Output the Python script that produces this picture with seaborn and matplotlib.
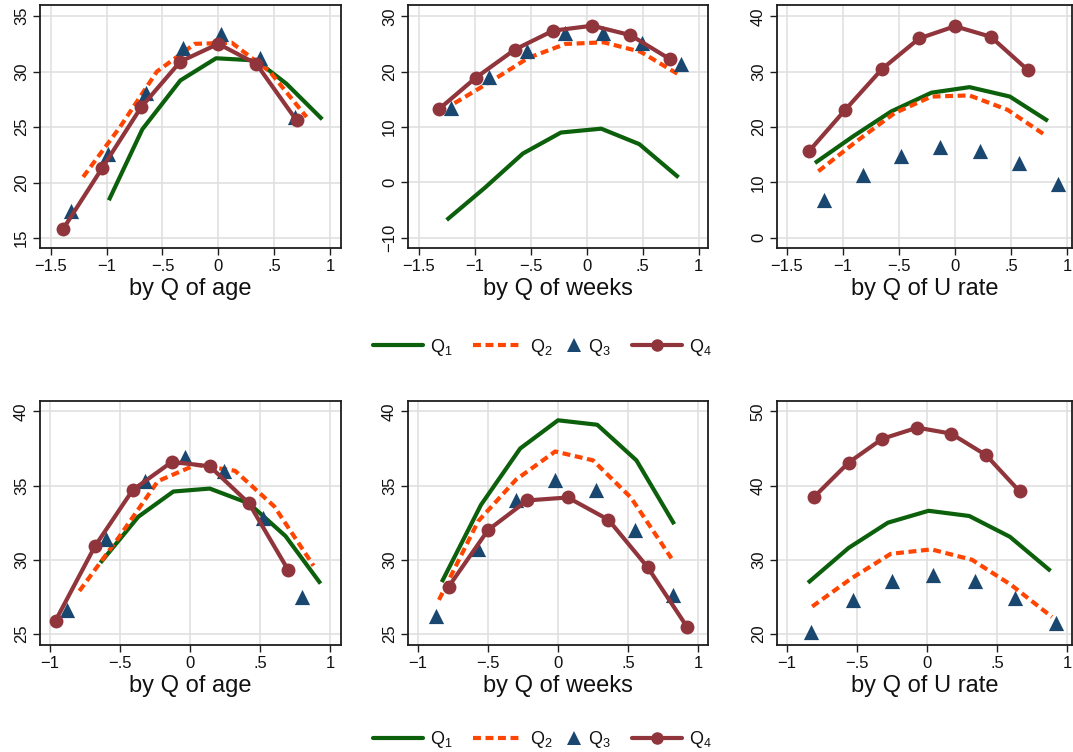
import matplotlib
matplotlib.use("Agg")
import matplotlib.pyplot as plt
from matplotlib.lines import Line2D
import seaborn as sns
import pandas as pd

# ---------------- data ----------------
series_labels = [r"$\mathregular{Q_1}$", r"$\mathregular{Q_2}$", r"$\mathregular{Q_3}$", r"$\mathregular{Q_4}$"]
axis_titles = ["by Q of age", "by Q of weeks", "by Q of U rate"]

# top row, by Q of age
top_age_q1_x = [-0.98, -0.68, -0.34, -0.02, 0.34, 0.61, 0.93]
top_age_q1_y = [18.4, 24.8, 29.2, 31.2, 31.0, 28.9, 25.7]
top_age_q2_x = [-1.21, -0.88, -0.55, -0.21, 0.12, 0.46, 0.79]
top_age_q2_y = [20.5, 25.0, 30.0, 32.5, 32.6, 30.0, 25.9]
top_age_q3_x = [-1.32, -0.99, -0.65, -0.32, 0.02, 0.37, 0.69]
top_age_q3_y = [17.4, 22.6, 28.1, 32.1, 33.4, 31.2, 25.9]
top_age_q4_x = [-1.39, -1.04, -0.69, -0.34, 0.00, 0.34, 0.70]
top_age_q4_y = [15.8, 21.3, 26.8, 30.9, 32.5, 30.7, 25.6]

# top row, by Q of weeks
top_wk_q1_x = [-1.25, -0.91, -0.57, -0.23, 0.13, 0.47, 0.82]
top_wk_q1_y = [-6.8, -1.0, 5.2, 9.0, 9.7, 6.9, 0.9]
top_wk_q2_x = [-1.18, -0.85, -0.52, -0.19, 0.15, 0.48, 0.82]
top_wk_q2_y = [14.3, 18.3, 22.5, 25.0, 25.3, 23.6, 19.5]
top_wk_q3_x = [-1.21, -0.87, -0.53, -0.19, 0.15, 0.49, 0.84]
top_wk_q3_y = [13.4, 19.0, 23.8, 26.9, 26.9, 25.2, 21.4]
top_wk_q4_x = [-1.32, -0.99, -0.64, -0.30, 0.05, 0.39, 0.74]
top_wk_q4_y = [13.2, 18.9, 24.0, 27.4, 28.3, 26.6, 22.3]

# top row, by Q of U rate
top_ur_q1_x = [-1.25, -0.91, -0.57, -0.21, 0.13, 0.49, 0.83]
top_ur_q1_y = [13.5, 18.3, 22.8, 26.2, 27.2, 25.5, 21.1]
top_ur_q2_x = [-1.22, -0.88, -0.54, -0.21, 0.13, 0.47, 0.80]
top_ur_q2_y = [12.0, 17.4, 22.5, 25.5, 25.7, 23.1, 18.6]
top_ur_q3_x = [-1.17, -0.82, -0.48, -0.13, 0.22, 0.57, 0.92]
top_ur_q3_y = [6.9, 11.4, 14.7, 16.3, 15.7, 13.5, 9.7]
top_ur_q4_x = [-1.30, -0.98, -0.65, -0.32, 0.00, 0.32, 0.65]
top_ur_q4_y = [15.7, 23.1, 30.5, 36.0, 38.2, 36.3, 30.3]

# bottom row, by Q of age
bot_age_q1_x = [-0.64, -0.37, -0.12, 0.14, 0.42, 0.68, 0.93]
bot_age_q1_y = [29.8, 32.9, 34.6, 34.8, 33.8, 31.6, 28.4]
bot_age_q2_x = [-0.79, -0.51, -0.23, 0.04, 0.32, 0.60, 0.88]
bot_age_q2_y = [27.9, 31.5, 35.3, 36.4, 36.0, 33.6, 29.6]
bot_age_q3_x = [-0.88, -0.60, -0.32, -0.04, 0.24, 0.52, 0.80]
bot_age_q3_y = [26.6, 31.4, 35.3, 36.9, 36.0, 32.8, 27.5]
bot_age_q4_x = [-0.96, -0.68, -0.41, -0.13, 0.14, 0.42, 0.70]
bot_age_q4_y = [25.9, 30.9, 34.7, 36.6, 36.3, 33.8, 29.3]

# bottom row, by Q of weeks
bot_wk_q1_x = [-0.83, -0.55, -0.27, 0.00, 0.28, 0.56, 0.83]
bot_wk_q1_y = [28.5, 33.7, 37.5, 39.4, 39.1, 36.7, 32.4]
bot_wk_q2_x = [-0.85, -0.57, -0.30, -0.02, 0.25, 0.52, 0.81]
bot_wk_q2_y = [27.3, 32.6, 35.4, 37.3, 36.7, 34.2, 30.1]
bot_wk_q3_x = [-0.87, -0.57, -0.30, -0.02, 0.27, 0.55, 0.82]
bot_wk_q3_y = [26.2, 30.7, 34.0, 35.4, 34.7, 32.0, 27.6]
bot_wk_q4_x = [-0.78, -0.50, -0.22, 0.07, 0.36, 0.64, 0.92]
bot_wk_q4_y = [28.2, 32.0, 34.0, 34.2, 32.7, 29.5, 25.5]

# bottom row, by Q of U rate
bot_ur_q1_x = [-0.85, -0.56, -0.28, 0.01, 0.30, 0.59, 0.88]
bot_ur_q1_y = [26.9, 31.6, 35.0, 36.6, 35.9, 33.1, 28.5]
bot_ur_q2_x = [-0.82, -0.54, -0.26, 0.03, 0.32, 0.60, 0.89]
bot_ur_q2_y = [23.7, 27.5, 30.8, 31.4, 30.0, 26.6, 22.3]
bot_ur_q3_x = [-0.83, -0.53, -0.25, 0.04, 0.34, 0.63, 0.92]
bot_ur_q3_y = [20.3, 24.6, 27.2, 28.0, 27.2, 24.8, 21.5]
bot_ur_q4_x = [-0.81, -0.56, -0.32, -0.07, 0.17, 0.42, 0.66]
bot_ur_q4_y = [38.4, 43.1, 46.3, 47.8, 47.0, 44.1, 39.2]

top_x_ticks = [-1.5, -1.0, -0.5, 0.0, 0.5, 1.0]
bot_x_ticks = [-1.0, -0.5, 0.0, 0.5, 1.0]
top_age_y_ticks = [15, 20, 25, 30, 35]
top_wk_y_ticks = [-10, 0, 10, 20, 30]
top_ur_y_ticks = [0, 10, 20, 30, 40]
bot_age_y_ticks = [25, 30, 35, 40]
bot_wk_y_ticks = [25, 30, 35, 40]
bot_ur_y_ticks = [20, 30, 40, 50]

# ---------------- style ----------------
sns.set_theme(style="white")
plt.rcParams["font.family"] = ["Liberation Sans", "DejaVu Sans"]
plt.rcParams["mathtext.fontset"] = "custom"
plt.rcParams["mathtext.rm"] = "Liberation Sans"
plt.rcParams["axes.unicode_minus"] = True

C_Q1 = "#0c600c"
C_Q2 = "#ff4500"
C_Q3 = "#1a476f"
C_Q4 = "#90353b"
GRID = "#e0e0e0"
FRAME = "#1e1e1e"

W, H = 1073, 752
fig = plt.figure(figsize=(W / 100, H / 100), dpi=100)
fig.patch.set_facecolor("white")


def px_axes(l, r, t, b):
    return fig.add_axes([l / W, 1 - b / H, (r - l) / W, (b - t) / H])


def fmt(v):
    if abs(v) < 1e-9:
        return "0"
    s = "%g" % abs(v)
    if s.startswith("0."):
        s = s[1:]
    return ("\u2212" + s) if v < 0 else s


panels = [
    dict(box=(40, 341, 5, 248), xlim=(-1.596, 1.098), ylim=(14.1, 36.0),
         xt=top_x_ticks, yt=top_age_y_ticks, title=axis_titles[0],
         s=[(top_age_q1_x, top_age_q1_y), (top_age_q2_x, top_age_q2_y),
            (top_age_q3_x, top_age_q3_y), (top_age_q4_x, top_age_q4_y)]),
    dict(box=(408, 708, 5, 248), xlim=(-1.595, 1.083), ylim=(-11.86, 32.04),
         xt=top_x_ticks, yt=top_wk_y_ticks, title=axis_titles[1],
         s=[(top_wk_q1_x, top_wk_q1_y), (top_wk_q2_x, top_wk_q2_y),
            (top_wk_q3_x, top_wk_q3_y), (top_wk_q4_x, top_wk_q4_y)]),
    dict(box=(777, 1072, 5, 248), xlim=(-1.589, 1.045), ylim=(-1.86, 42.04),
         xt=top_x_ticks, yt=top_ur_y_ticks, title=axis_titles[2],
         s=[(top_ur_q1_x, top_ur_q1_y), (top_ur_q2_x, top_ur_q2_y),
            (top_ur_q3_x, top_ur_q3_y), (top_ur_q4_x, top_ur_q4_y)]),
    dict(box=(40, 341, 401, 645), xlim=(-1.071, 1.076), ylim=(24.26, 40.7),
         xt=bot_x_ticks, yt=bot_age_y_ticks, title=axis_titles[0],
         s=[(bot_age_q1_x, bot_age_q1_y), (bot_age_q2_x, bot_age_q2_y),
            (bot_age_q3_x, bot_age_q3_y), (bot_age_q4_x, bot_age_q4_y)]),
    dict(box=(408, 708, 401, 645), xlim=(-1.071, 1.071), ylim=(24.26, 40.7),
         xt=bot_x_ticks, yt=bot_wk_y_ticks, title=axis_titles[1],
         s=[(bot_wk_q1_x, bot_wk_q1_y), (bot_wk_q2_x, bot_wk_q2_y),
            (bot_wk_q3_x, bot_wk_q3_y), (bot_wk_q4_x, bot_wk_q4_y)]),
    dict(box=(777, 1072, 401, 645), xlim=(-1.071, 1.033), ylim=(18.52, 51.39),
         xt=bot_x_ticks, yt=bot_ur_y_ticks, title=axis_titles[2],
         s=[(bot_ur_q1_x, bot_ur_q1_y), (bot_ur_q2_x, bot_ur_q2_y),
            (bot_ur_q3_x, bot_ur_q3_y), (bot_ur_q4_x, bot_ur_q4_y)]),
]

LW = 3.0
for p in panels:
    ax = px_axes(*p["box"])
    ax.set_facecolor("white")
    (x1, y1), (x2, y2), (x3, y3), (x4, y4) = p["s"]
    sns.lineplot(x=x1, y=y1, ax=ax, color=C_Q1, lw=LW, sort=False,
                 errorbar=None, legend=False, solid_capstyle="butt", zorder=3)
    sns.lineplot(x=x2, y=y2, ax=ax, color=C_Q2, lw=LW, sort=False,
                 errorbar=None, legend=False, dashes=False, zorder=3)
    ax.lines[-1].set_dashes((1.9, 1.1))
    sns.scatterplot(x=x3, y=y3, ax=ax, color=C_Q3, marker="^", s=120,
                    linewidth=0, legend=False, zorder=4)
    sns.lineplot(x=x4, y=y4, ax=ax, color=C_Q4, lw=LW, sort=False,
                 errorbar=None, legend=False, marker="o", markersize=10,
                 markeredgecolor=C_Q4, markeredgewidth=0, zorder=5)

    ax.set_xlim(*p["xlim"])
    ax.set_ylim(*p["ylim"])
    ax.set_xticks(p["xt"])
    ax.set_yticks(p["yt"])
    ax.set_xticklabels([fmt(v) for v in p["xt"]])
    ax.set_yticklabels([fmt(v) for v in p["yt"]], rotation=90, va="center")
    ax.grid(True, color=GRID, lw=1.2, zorder=0)
    ax.set_axisbelow(True)
    for sp in ax.spines.values():
        sp.set_visible(True)
        sp.set_color(FRAME)
        sp.set_linewidth(1.3)
    ax.tick_params(axis="both", direction="out", length=5, width=1,
                   color=FRAME, labelsize=12, labelcolor="#111111",
                   bottom=True, left=True, pad=3)
    ax.set_xlabel(p["title"], fontsize=17, color="#111111", labelpad=3)
    ax.set_ylabel("")

# legends: one entry each, placed as in the reference
handles = [
    Line2D([], [], color=C_Q1, lw=LW),
    Line2D([], [], color=C_Q2, lw=LW, dashes=(1.9, 1.1)),
    Line2D([], [], color=C_Q3, lw=0, marker="^", markersize=10, markeredgewidth=0),
    Line2D([], [], color=C_Q4, lw=LW, marker="o", markersize=9, markeredgewidth=0),
]
entry_left_px = [373, 473, 567, 632]
entry_handle_len = [2.75, 2.75, 0.75, 2.75]
for yc in (347, 740):
    for h, lab, xl, hl in zip(handles, series_labels, entry_left_px, entry_handle_len):
        fig.legend([h], [lab], loc="center left", frameon=False,
                   bbox_to_anchor=(xl / W, 1 - yc / H), fontsize=13,
                   handlelength=hl, handletextpad=0.4, borderpad=0,
                   borderaxespad=0, labelcolor="#111111")

fig.savefig("out.png", dpi=100, facecolor="white")
